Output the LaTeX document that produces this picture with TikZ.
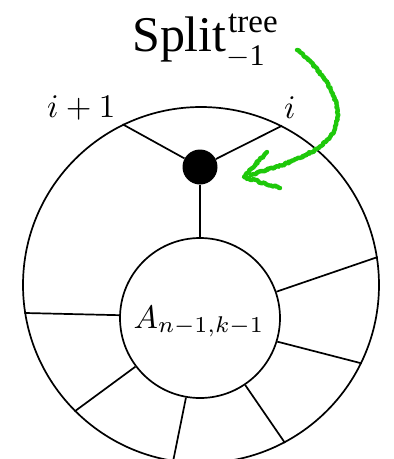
\documentclass[tikz,border=0pt]{standalone}
\usepackage{graphicx}
\usepackage{fontspec}
\newfontfamily\tms{Liberation Serif}
\usetikzlibrary{decorations.pathmorphing}
\definecolor{scribble}{RGB}{30,200,10}
\begin{document}
\begin{tikzpicture}[x=1pt,y=-1pt,
  ring/.style={draw,line width=1.7pt,circle,inner sep=0pt},
  spoke/.style={line width=1.7pt},
  lbl/.style={inner sep=0pt},
  scrib/.style={draw=scribble,line width=4.4pt,line cap=round,line join=round,
    decorate,decoration={random steps,segment length=1.5pt,amplitude=1pt}}]
\clip (0,0) rectangle (394,459);
\node[ring,minimum size=356pt] (outer) at (201,285) {};
\node[ring,minimum size=160pt] (inner) at (200,318) {};
\node[lbl,anchor=base] (alabel) at (199,328) {\scalebox{3.25}{$A_{n-1,k-1}$}};
\node[circle,fill=black,inner sep=0pt,minimum size=35pt] (dot) at (200,167) {};
% spokes from the vertex
\draw[spoke] (dot) -- (outer.116.6);
\draw[spoke] (dot) -- (outer.63.2);
\draw[spoke] (dot) -- (inner.north);
% spokes between the rings
\draw[spoke] (inner.19.1) -- (outer.9.4);
\draw[spoke] (inner.-17.1) -- (outer.-26.6);
\draw[spoke] (inner.-56.3) -- (outer.-62.7);
\draw[spoke] (inner.-100.6) -- (outer.-99.2);
\draw[spoke] (inner.-143.6) -- (outer.-135.5);
\draw[spoke] (inner.178.5) -- (outer.-171.6);
% labels
\node[lbl,anchor=base west] (lip) at (47,117) {\scalebox{3.3}{$i+1$}};
\node[lbl,anchor=base west] (li) at (284,118) {\scalebox{3.3}{$i$}};
% title
\node[inner sep=0pt,anchor=base west,font=\fontsize{50}{58}\selectfont\tms] (split) at (132,51) {Split};
\node[inner sep=0pt,anchor=base west,font=\fontsize{33}{40}\selectfont\tms] (sup) at (228,32) {tree};
\node[inner sep=0pt,anchor=base west,font=\fontsize{30}{36}\selectfont\tms] (sub) at (226,65) {{\fontsize{10}{12}\selectfont\scalebox{3}{$-$}}1};
% green scribbled arrow
\coordinate (a0) at (297,50);
\coordinate (a1) at (336,125);
\coordinate (a2) at (251,175);
\coordinate (h1) at (267,152);
\coordinate (ht) at (244,177);
\coordinate (h2) at (280,188);
\draw[scrib] (a0) .. controls (327,75) and (343,103) .. (a1) .. controls (330,150) and (290,163) .. (a2);
\draw[scrib] (h1) -- (ht) -- (h2);
\end{tikzpicture}
\end{document}
